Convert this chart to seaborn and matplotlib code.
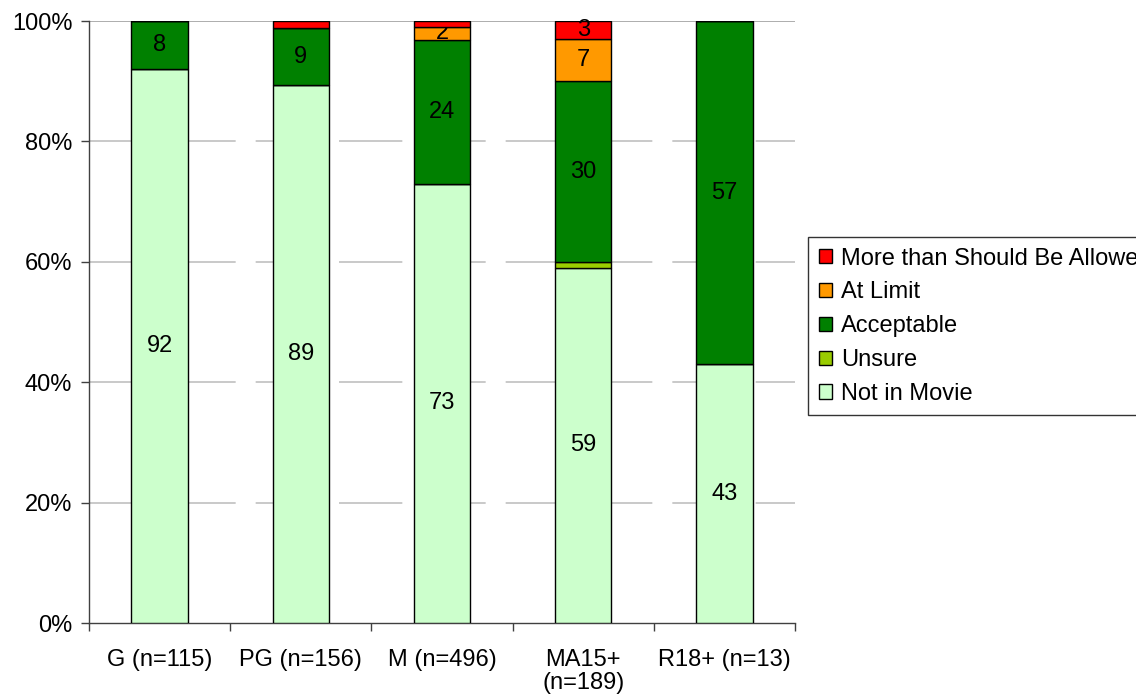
import matplotlib
matplotlib.use("Agg")
import matplotlib.pyplot as plt
import seaborn as sns
import numpy as np
import pandas as pd

categories = ["G (n=115)", "PG (n=156)", "M (n=496)", "MA15+\n(n=189)", "R18+ (n=13)"]
series_names = ["Not in Movie", "Unsure", "Acceptable", "At Limit", "More than Should Be Allowed"]
not_in_movie = [92.0, 89.4, 73.0, 59.0, 43.0]
unsure = [0.0, 0.0, 0.0, 1.0, 0.0]
acceptable = [8.0, 9.4, 23.9, 30.0, 57.0]
at_limit = [0.0, 0.0, 2.1, 7.0, 0.0]
more_than_allowed = [0.0, 1.2, 1.0, 3.0, 0.0]
colors = ["#CCFFCC", "#99CC00", "#008000", "#FF9900", "#FF0000"]
y_ticks = [0, 20, 40, 60, 80, 100]

sns.set_theme(style="white")
plt.rcParams["font.family"] = ["Liberation Sans", "DejaVu Sans"]
plt.rcParams["text.color"] = "black"
plt.rcParams["xtick.color"] = "black"
plt.rcParams["ytick.color"] = "black"

FS = 17

fig = plt.figure(figsize=(11.36, 6.97), dpi=100)
ax = fig.add_axes([89/1136, 1-623/697, (795-89)/1136, (623-21)/697])

series = [not_in_movie, unsure, acceptable, at_limit, more_than_allowed]
bottom = np.zeros(len(categories))
handles = []
for name, vals, col in zip(series_names, series, colors):
    vals = np.array(vals)
    df = pd.DataFrame({"cat": categories, "val": vals})
    sns.barplot(data=df, x="cat", y="val", order=categories, color=col,
                bottom=bottom, width=0.4, edgecolor="black", linewidth=1.0,
                ax=ax, saturation=1, zorder=3)
    cont = ax.containers[-1]
    labels = [f"{v:.0f}" if v >= 1.5 else "" for v in vals]
    ax.bar_label(cont, labels=labels, label_type="center", fontsize=FS, color="black")
    handles.append(plt.Rectangle((0, 0), 1, 1, facecolor=col, edgecolor="black", linewidth=1.0))
    bottom = bottom + vals

ax.set_ylim(0, 100)
ax.set_xlim(-0.5, len(categories) - 0.5)
ax.set_yticks(y_ticks)
ax.set_yticklabels([f"{t}%" for t in y_ticks], fontsize=FS, color="black")
for t in y_ticks[1:-1]:
    ax.axhline(t, color="#C0C0C0", linewidth=1.2, linestyle=(0, (38, 12)), zorder=1)
ax.axhline(100, color="#A0A0A0", linewidth=1.2, zorder=1)

ax.set_xticks(range(len(categories)))
ax.set_xticklabels(categories, fontsize=FS, color="black", linespacing=1.05)
ax.set_xticks(np.arange(-0.5, len(categories), 1.0), minor=True)
ax.tick_params(axis="x", which="major", length=0, pad=19)
ax.tick_params(axis="x", which="minor", length=6, width=1, color="#404040", direction="out", bottom=True)
ax.tick_params(axis="y", which="major", length=6, width=1, color="#404040", direction="out", left=True, pad=6)
ax.set_xlabel("")
ax.set_ylabel("")
for s in ["top", "right"]:
    ax.spines[s].set_visible(False)
for s in ["left", "bottom"]:
    ax.spines[s].set_color("#404040")
    ax.spines[s].set_linewidth(1.0)

leg = fig.legend(handles[::-1], series_names[::-1], loc="upper left",
                 bbox_to_anchor=(808/1136, 1-237/697), fontsize=FS,
                 frameon=True, fancybox=False, edgecolor="black",
                 handlelength=0.55, handleheight=0.55, handletextpad=0.4,
                 labelspacing=0.5, borderpad=0.45, borderaxespad=0)
leg.get_frame().set_linewidth(1.0)

fig.savefig("out.png", dpi=100)
